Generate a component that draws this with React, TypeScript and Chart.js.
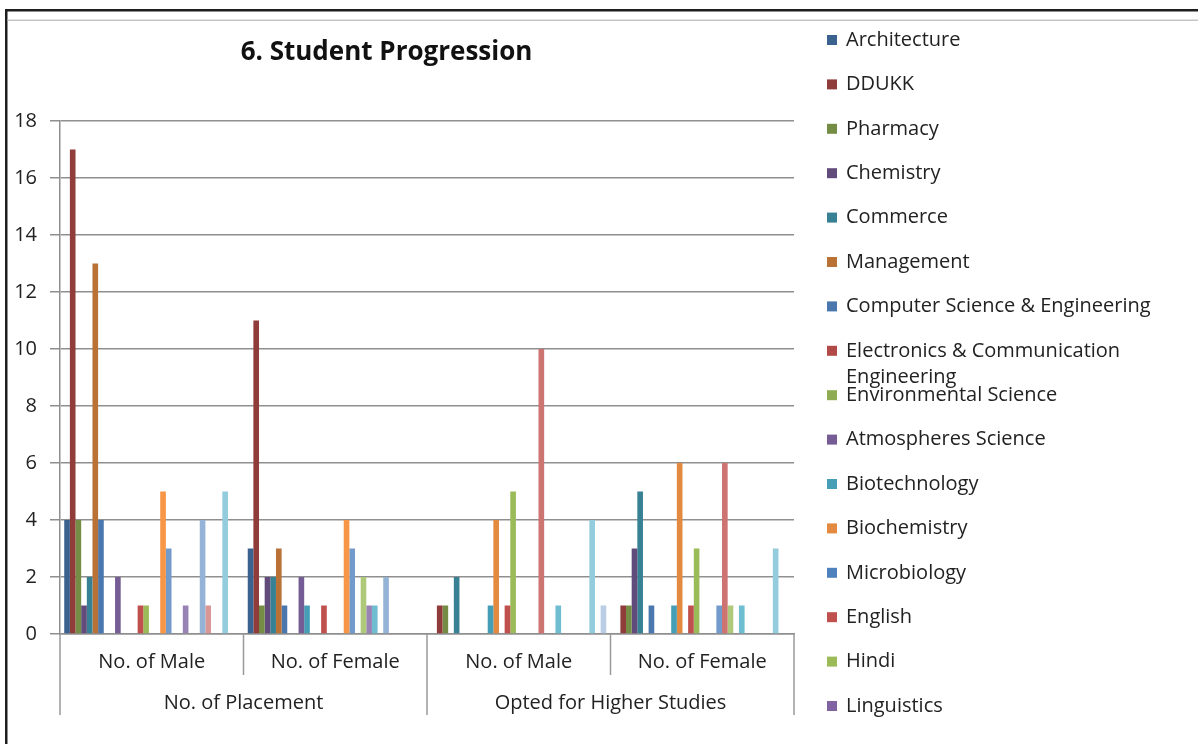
import React, { useEffect, useRef } from 'react';
import { Chart, registerables } from 'chart.js';

Chart.register(...registerables);

// ---------- data ----------
const categories = ['No. of Male', 'No. of Female', 'No. of Male', 'No. of Female'];
const groupLabels = ['No. of Placement', 'Opted for Higher Studies'];
const groupSpans = [2, 2];
const yMin = 0;
const yMax = 18;
const yStep = 2;
const chartTitle = '6. Student Progression';

const seriesNames = [
  'Architecture',
  'DDUKK',
  'Pharmacy',
  'Chemistry',
  'Commerce',
  'Management',
  'Computer Science & Engineering',
  'Electronics & Communication Engineering',
  'Environmental Science',
  'Atmospheres Science',
  'Biotechnology',
  'Biochemistry',
  'Microbiology',
  'English',
  'Hindi',
  'Linguistics',
  'Series 17',
  'Series 18',
  'Series 19',
  'Series 20',
  'Series 21',
  'Series 22',
  'Series 23',
  'Series 24',
  'Series 25',
  'Series 26',
  'Series 27',
  'Series 28',
  'Series 29',
  'Series 30',
  'Series 31',
];

const architecture = [4, 3, 0, 0];
const ddukk = [17, 11, 1, 1];
const pharmacy = [4, 1, 1, 1];
const chemistry = [1, 2, 0, 3];
const commerce = [2, 2, 2, 5];
const management = [13, 3, 0, 0];
const computerScience = [4, 1, 0, 1];
const electronics = [0, 0, 0, 0];
const environmental = [0, 0, 0, 0];
const atmospheres = [2, 2, 0, 0];
const biotechnology = [0, 1, 1, 1];
const biochemistry = [0, 0, 4, 6];
const microbiology = [0, 0, 0, 0];
const english = [1, 1, 1, 1];
const hindi = [1, 0, 5, 3];
const linguistics = [0, 0, 0, 0];
const series17 = [0, 0, 0, 0];
const series18 = [5, 4, 0, 0];
const series19 = [3, 3, 0, 1];
const series20 = [0, 0, 10, 6];
const series21 = [0, 2, 0, 1];
const series22 = [1, 1, 0, 0];
const series23 = [0, 1, 1, 1];
const series24 = [0, 0, 0, 0];
const series25 = [4, 2, 0, 0];
const series26 = [1, 0, 0, 0];
const series27 = [0, 0, 0, 0];
const series28 = [0, 0, 0, 0];
const series29 = [5, 0, 4, 3];
const series30 = [0, 0, 0, 0];
const series31 = [0, 0, 1, 0];

const seriesValues = [
  architecture, ddukk, pharmacy, chemistry, commerce, management,
  computerScience, electronics, environmental, atmospheres, biotechnology, biochemistry,
  microbiology, english, hindi, linguistics, series17, series18,
  series19, series20, series21, series22, series23, series24,
  series25, series26, series27, series28, series29, series30,
  series31,
];

const seriesColors = [
  '#3B618E', '#903C3A', '#748C43', '#604B7A', '#388195', '#B97135',
  '#4977AE', '#B14A47', '#8FAC52', '#765C95', '#459EB6', '#E38A40',
  '#4F81BD', '#C0504D', '#9BBB59', '#8064A2', '#4BACC6', '#F79646',
  '#729ACA', '#CD7371', '#AFC97A', '#9983B5', '#6FBDD1', '#F9AB6B',
  '#95B3D7', '#D99694', '#C3D69B', '#B3A2C7', '#93CDDD', '#FAC090',
  '#B9CDE5',
];

// ---------- styles ----------
const W = 1198;
const H = 744;
const FONT = "'Open Sans', sans-serif";
const TEXT = '#222222';
const GRID = '#8f8f8f';

const decorPlugin = {
  id: 'decor',
  beforeDraw(chart: any) {
    const ctx = chart.ctx;
    ctx.save();
    ctx.fillStyle = '#ffffff';
    ctx.fillRect(0, 0, chart.width, chart.height);
    ctx.restore();
  },
  afterDraw(chart: any) {
    const ctx = chart.ctx;
    const xs = chart.scales.x;
    ctx.save();

    // frame
    ctx.fillStyle = '#1e1e1e';
    ctx.fillRect(5, 9, W - 5, 2.5);
    ctx.fillRect(5, 9, 2.5, H - 9);
    ctx.fillStyle = '#c4c4c4';
    ctx.fillRect(7.5, 19.5, W - 7.5, 1.5);

    // title
    ctx.fillStyle = '#111111';
    ctx.font = `bold 26px ${FONT}`;
    ctx.textAlign = 'center';
    ctx.textBaseline = 'middle';
    ctx.fillText(chartTitle, 386.5, 53);

    // category dividers
    const n = categories.length;
    const bounds: number[] = [];
    for (let i = 0; i <= n; i++) {
      if (i === 0) bounds.push(xs.left);
      else if (i === n) bounds.push(xs.right);
      else bounds.push((xs.getPixelForTick(i - 1) + xs.getPixelForTick(i)) / 2);
    }
    const groupEdges = new Set<number>([0]);
    let acc = 0;
    groupSpans.forEach((s) => { acc += s; groupEdges.add(acc); });
    ctx.strokeStyle = '#9a9a9a';
    ctx.lineWidth = 1.5;
    bounds.forEach((bx, i) => {
      const bottom = groupEdges.has(i) ? 715 : 675;
      ctx.beginPath();
      ctx.moveTo(bx, xs.top);
      ctx.lineTo(bx, bottom);
      ctx.stroke();
    });

    // group labels
    ctx.fillStyle = TEXT;
    ctx.font = `20px ${FONT}`;
    ctx.textAlign = 'center';
    ctx.textBaseline = 'middle';
    let start = 0;
    groupLabels.forEach((g, gi) => {
      const end = start + groupSpans[gi];
      ctx.fillText(g, (bounds[start] + bounds[end]) / 2, 703);
      start = end;
    });

    // legend
    const boxX = 827;
    const box = 10;
    const textX = 846;
    const firstY = 40;
    const rowGap = 44.4;
    const lineGap = 26;
    const maxW = W - 6 - textX;
    ctx.textAlign = 'left';
    chart.data.datasets.forEach((ds: any, i: number) => {
      const y = firstY + i * rowGap;
      if (y > H - 20) return;
      ctx.fillStyle = ds.backgroundColor;
      ctx.fillRect(boxX, y - box / 2, box, box);
      ctx.fillStyle = TEXT;
      const words = String(ds.label).split(' ');
      const lines: string[] = [];
      let cur = '';
      words.forEach((w) => {
        const t = cur ? cur + ' ' + w : w;
        if (cur && ctx.measureText(t).width > maxW) {
          lines.push(cur);
          cur = w;
        } else cur = t;
      });
      if (cur) lines.push(cur);
      lines.forEach((l, li) => ctx.fillText(l, textX, y + li * lineGap));
    });

    ctx.restore();
  },
};

export default function App() {
  const ref = useRef<HTMLCanvasElement | null>(null);

  useEffect(() => {
    if (!ref.current) return;
    const chart = new Chart(ref.current, {
      type: 'bar',
      data: {
        labels: categories,
        datasets: seriesNames.map((name, i) => ({
          label: name,
          data: seriesValues[i],
          backgroundColor: seriesColors[i],
          borderWidth: 0,
          barPercentage: 1,
          categoryPercentage: 31 / 32.5,
        })),
      },
      options: {
        responsive: false,
        animation: false,
        devicePixelRatio: 1,
        layout: { padding: { top: 121, left: 0, right: 404, bottom: 0 } },
        plugins: {
          legend: { display: false },
          title: { display: false },
          tooltip: { enabled: false },
        },
        scales: {
          x: {
            type: 'category',
            grid: { display: false },
            border: { display: true, color: GRID, width: 1.5 },
            ticks: {
              font: { family: FONT, size: 20 },
              color: TEXT,
              padding: 8,
              maxRotation: 0,
              autoSkip: false,
            },
            afterFit: (s: any) => { s.height = 110; },
          },
          y: {
            min: yMin,
            max: yMax,
            ticks: {
              stepSize: yStep,
              font: { family: FONT, size: 20 },
              color: TEXT,
              padding: 13,
            },
            grid: { color: GRID, lineWidth: 1.5, tickLength: 10, drawTicks: true },
            border: { display: true, color: GRID, width: 1.5 },
            afterFit: (s: any) => { s.width = 60; },
          },
        },
      },
      plugins: [decorPlugin],
    } as any);
    return () => chart.destroy();
  }, []);

  return (
    <div style={{ position: 'fixed', left: 0, top: 0, width: W, height: H, background: '#fff' }}>
      <canvas ref={ref} width={W} height={H} style={{ display: 'block', width: W, height: H }} />
    </div>
  );
}
